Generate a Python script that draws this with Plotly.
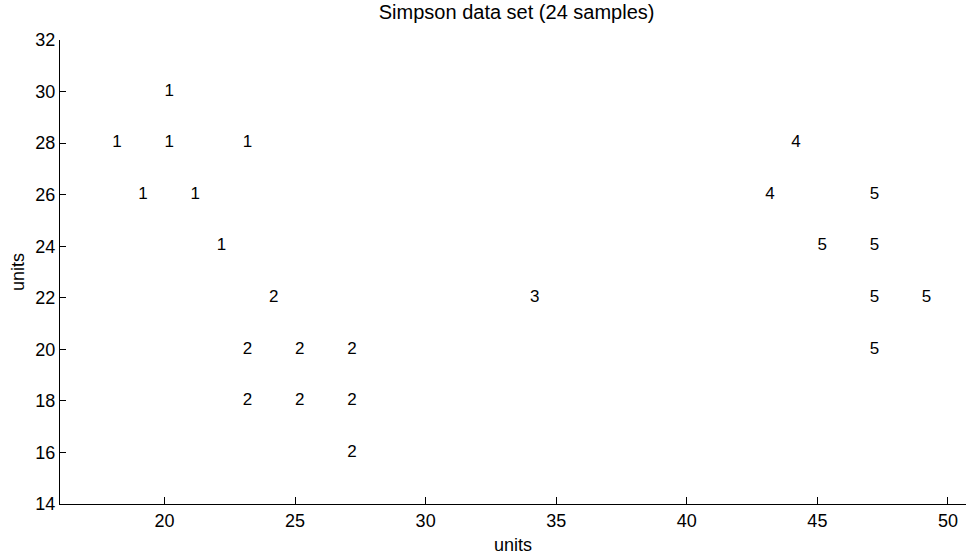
import plotly.graph_objects as go

# Simpson data set: x, y coordinates and class labels
x_vals = [18, 19, 20, 20, 21, 22, 23,
          24, 23, 25, 27, 23, 25, 27, 27,
          34,
          44, 43,
          45, 47, 47, 47, 47, 49]
y_vals = [28, 26, 30, 28, 26, 24, 28,
          22, 20, 20, 20, 18, 18, 18, 16,
          22,
          28, 26,
          24, 26, 24, 22, 20, 22]
labels = ["1", "1", "1", "1", "1", "1", "1",
          "2", "2", "2", "2", "2", "2", "2", "2",
          "3",
          "4", "4",
          "5", "5", "5", "5", "5", "5"]

x_ticks = [20, 25, 30, 35, 40, 45, 50]
y_ticks = [14, 16, 18, 20, 22, 24, 26, 28, 30, 32]

FONT = "Liberation Sans, Arial, Helvetica, sans-serif"
FS = 18

fig = go.Figure()
fig.add_trace(go.Scatter(
    x=x_vals, y=y_vals, text=labels, mode="text",
    textposition="middle right",
    textfont=dict(family=FONT, size=17, color="black"),
    hoverinfo="skip", showlegend=False,
))

fig.update_layout(
    width=966, height=556,
    margin=dict(l=60, r=0, t=40, b=52, autoexpand=False),
    paper_bgcolor="white", plot_bgcolor="white",
    font=dict(family=FONT, size=FS, color="black"),
    title=dict(text="Simpson data set (24 samples)", x=0.504, xanchor="center",
               xref="paper", y=0.978, yanchor="middle", yref="container",
               font=dict(family=FONT, size=20, color="black")),
    xaxis=dict(range=[16, 50.69], tickvals=x_ticks, ticks="inside", ticklen=7,
               tickcolor="black", showline=True, linecolor="black", linewidth=1,
               showgrid=False, zeroline=False, mirror=False, automargin=False,
               tickfont=dict(family=FONT, size=FS)),
    yaxis=dict(range=[14, 32], tickvals=y_ticks, ticks="inside", ticklen=6,
               tickcolor="black", showline=True, linecolor="black", linewidth=1,
               showgrid=False, zeroline=False, mirror=False, automargin=False,
               tickfont=dict(family=FONT, size=FS)),
    annotations=[
        dict(text="units", xref="paper", yref="paper", x=0.5, y=-0.088,
             xanchor="center", yanchor="middle", showarrow=False,
             font=dict(family=FONT, size=FS)),
        dict(text="units", xref="paper", yref="paper", x=-0.0464, y=0.5,
             xanchor="center", yanchor="middle", showarrow=False, textangle=-90,
             font=dict(family=FONT, size=FS)),
    ],
)

fig.write_html("out.html", config={"displayModeBar": False},
               post_script="document.body.style.margin='0';document.body.style.overflow='hidden';")
